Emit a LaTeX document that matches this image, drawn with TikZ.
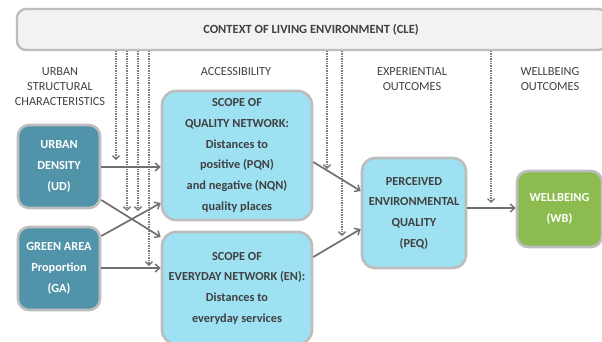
\documentclass[tikz,border=0pt]{standalone}
\usepackage{fontspec}
\setmainfont{Carlito}
\usetikzlibrary{arrows.meta}
\definecolor{edgegray}{HTML}{BDBDBD}
\definecolor{linegray}{HTML}{6F6F6F}
\definecolor{dotgray}{HTML}{7A7A7A}
\definecolor{txtgray}{HTML}{404040}
\definecolor{teal}{HTML}{5194AA}
\definecolor{skyblue}{HTML}{9DE1F3}
\definecolor{leaf}{HTML}{8CBB4F}
\definecolor{ctxfill}{HTML}{F2F2F2}
\tikzset{
  box/.style={draw=edgegray, line width=2.6pt, rounded corners=11pt, align=center,
    inner sep=0pt, font=\bfseries\fontsize{12.3}{20.7}\selectfont},
  darkbox/.style={box, fill=teal, text=white},
  lightbox/.style={box, fill=skyblue, text=txtgray},
  greenbox/.style={box, fill=leaf, text=white},
  heading/.style={align=center, text=txtgray, font=\fontsize{12.3}{15}\selectfont},
  link/.style={draw=linegray, line width=1.7pt, -{Straight Barb[length=4.5pt,width=8pt,line width=1.4pt]}},
  ctxlink/.style={draw=dotgray, line width=1.9pt, dash pattern=on 1.4pt off 1pt,
    -{Straight Barb[length=3.5pt,width=7pt,line width=1.4pt]}}
}
\begin{document}
\begin{tikzpicture}[x=1pt,y=-1pt]
\useasboundingbox (0,0) rectangle (602,341);

% context band
\node[draw=edgegray, fill=ctxfill, line width=2.4pt, rounded corners=9pt,
  minimum width=590pt, minimum height=41pt, inner sep=0pt] (cle) at (312,29.5) {};
\node[text=txtgray, font=\bfseries\fontsize{12.5}{14}\selectfont] (cletext) at (311,29.5) {CONTEXT OF LIVING ENVIRONMENT (CLE)};

% column headings
\node[heading] (h1) at (60,87) {URBAN\\STRUCTURAL\\CHARACTERISTICS};
\node[heading] (h2) at (236,72) {ACCESSIBILITY};
\node[heading] (h3) at (412,79.5) {EXPERIENTIAL\\OUTCOMES};
\node[heading] (h4) at (550,79.5) {WELLBEING\\OUTCOMES};

% boxes
\node[darkbox, minimum width=82pt, minimum height=83pt] (ud) at (59,166.5) {URBAN\\DENSITY\\(UD)};
\node[darkbox, minimum width=82pt, minimum height=83pt] (ga) at (59,268.5) {GREEN AREA\\Proportion\\(GA)};
\node[lightbox, minimum width=150pt, minimum height=129pt, rounded corners=14pt] (pqn) at (237,155.5)
  {SCOPE OF\\QUALITY NETWORK:\\Distances to\\positive (PQN)\\and negative (NQN)\\quality places};
\node[lightbox, minimum width=150pt, minimum height=112pt, rounded corners=14pt] (en) at (237,288)
  {SCOPE OF\\EVERYDAY NETWORK (EN):\\Distances to\\everyday services};
\node[lightbox, minimum width=104pt, minimum height=110pt, rounded corners=13pt] (peq) at (414,213)
  {PERCEIVED\\ENVIRONMENTAL\\QUALITY\\(PEQ)};
\node[greenbox, minimum width=85pt, minimum height=76pt] (wb) at (559.5,209) {WELLBEING\\(WB)};

% anchor points of the context arrows
\coordinate (c1) at (116,51); \coordinate (t1) at (116,160);
\coordinate (c2) at (127,51); \coordinate (t2) at (127,211);
\coordinate (c3) at (138,51); \coordinate (t3) at (138,211);
\coordinate (c4) at (149,51); \coordinate (t4) at (149,266);
\coordinate (c5) at (327,51); \coordinate (t5) at (327,169);
\coordinate (c6) at (342,51); \coordinate (t6) at (342,236);
\coordinate (c7) at (491,51); \coordinate (t7) at (491,203);
\foreach \i in {1,...,7} \draw[ctxlink] (c\i) -- (t\i);

% main relations
\draw[link] (ud.east |- 0,167) -- (pqn.west |- 0,167);
\draw[link] (ud.east |- 0,200) -- (en.west |- 0,237);
\draw[link] (ga.east |- 0,236) -- (pqn.west |- 0,203);
\draw[link] (ga.east |- 0,268) -- (en.west |- 0,268);
\draw[link] (pqn.east |- 0,162) -- (peq.west |- 0,191);
\draw[link] (en.east |- 0,257) -- (peq.west |- 0,229);
\draw[link] (peq.east |- 0,208) -- (wb.west |- 0,208);
\end{tikzpicture}
\end{document}
